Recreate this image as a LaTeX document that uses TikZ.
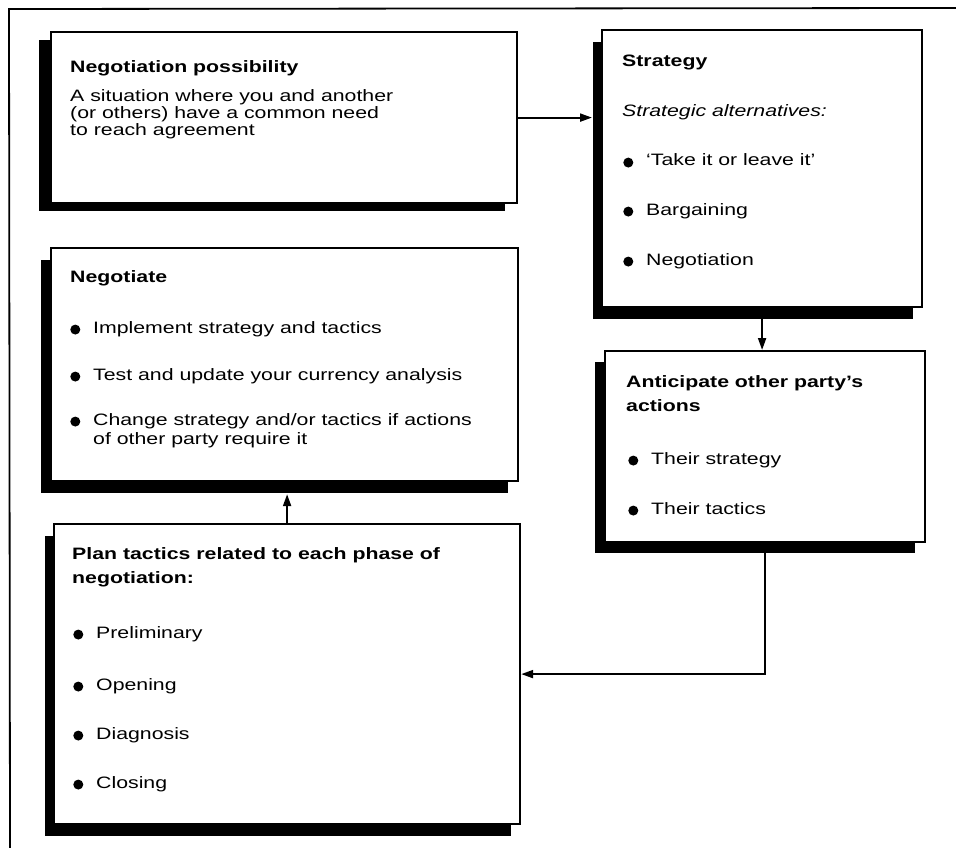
\documentclass[tikz,border=0pt]{standalone}
\usepackage{fontspec}
\setmainfont{Liberation Sans}[FakeStretch=1.29]
\usetikzlibrary{shadows,arrows.meta,calc}
\begin{document}
\begin{tikzpicture}[x=1pt,y=-1pt,
  box/.style={draw=black, line width=2.2pt, fill=white, inner sep=0pt, anchor=north west},
  sh/.style 2 args={drop shadow={shadow xshift=#1, shadow yshift=#2, opacity=1, fill=black}},
  txt/.style={anchor=base west, inner sep=0pt, text height=1.3ex, text depth=0pt, font=\fontsize{16.5}{18}\selectfont},
  hd/.style={txt, font=\fontsize{16.5}{18}\selectfont\bfseries},
  bul/.style={circle, fill=black, inner sep=0pt, minimum size=10pt},
  item/.style={txt, label={[bul, label distance=12.5pt]left:{}}},
  conn/.style={line width=2pt, -{Triangle[length=12pt,width=8pt]}},
]
\useasboundingbox (0,0) rectangle (956,848);
% outer frame
\draw[line width=1.8pt] (956,8) -- (9,9) -- (10,848);

% boxes
\node[box, sh={-12pt}{-8pt}, minimum width=466pt, minimum height=171pt] (poss) at (50,31) {};
\node[box, sh={-9pt}{-12pt}, minimum width=320pt, minimum height=277pt] (strat) at (601,29) {};
\node[box, sh={-10pt}{-12pt}, minimum width=467pt, minimum height=233pt] (nego) at (50,247) {};
\node[box, sh={-10pt}{-11pt}, minimum width=320pt, minimum height=191pt] (antic) at (604,350) {};
\node[box, sh={-9pt}{-12pt}, minimum width=466pt, minimum height=300pt] (plan) at (53,523) {};

% texts: negotiation possibility
\node[hd] (t1) at (70,73) {Negotiation possibility};
\node[txt] (t1a) at (70,102) {A situation where you and another};
\node[txt] (t1b) at (70,119) {(or others) have a common need};
\node[txt] (t1c) at (70,136) {to reach agreement};

% strategy
\node[hd] (t2) at (622,67) {Strategy};
\node[txt, font=\fontsize{16.5}{18}\selectfont\itshape] (t2a) at (622,117) {Strategic alternatives:};
\node[item] (t2b) at (646,166) {`Take it or leave it'};
\node[item] (t2c) at (646,215) {Bargaining};
\node[item] (t2d) at (646,265) {Negotiation};

% negotiate
\node[hd] (t3) at (70,282) {Negotiate};
\node[item] (t3a) at (93,333) {Implement strategy and tactics};
\node[item] (t3b) at (93,380) {Test and update your currency analysis};
\node[item] (t3c) at (93,425) {Change strategy and/or tactics if actions};
\node[txt] (t3d) at (93,444) {of other party require it};

% anticipate
\node[hd] (t4) at (626,387) {Anticipate other party's};
\node[hd] (t4a) at (626,411) {actions};
\node[item] (t4b) at (651,464) {Their strategy};
\node[item] (t4c) at (651,514) {Their tactics};

% plan
\node[hd] (t5) at (72,559) {Plan tactics related to each phase of};
\node[hd] (t5a) at (72,583) {negotiation:};
\node[item] (t5b) at (96,638) {Preliminary};
\node[item] (t5c) at (96,690) {Opening};
\node[item] (t5d) at (96,739) {Diagnosis};
\node[item] (t5e) at (96,788) {Closing};

% connectors
\draw[conn, shorten >=9pt] (poss.east) -- (poss.east -| strat.west);
\draw[conn] (strat.south) -- (strat.south |- antic.north);
\draw[conn] (antic.south) |- (plan.east);
\draw[conn, shorten >=12pt] (plan.north) -- (plan.north |- nego.south);
\end{tikzpicture}
\end{document}
